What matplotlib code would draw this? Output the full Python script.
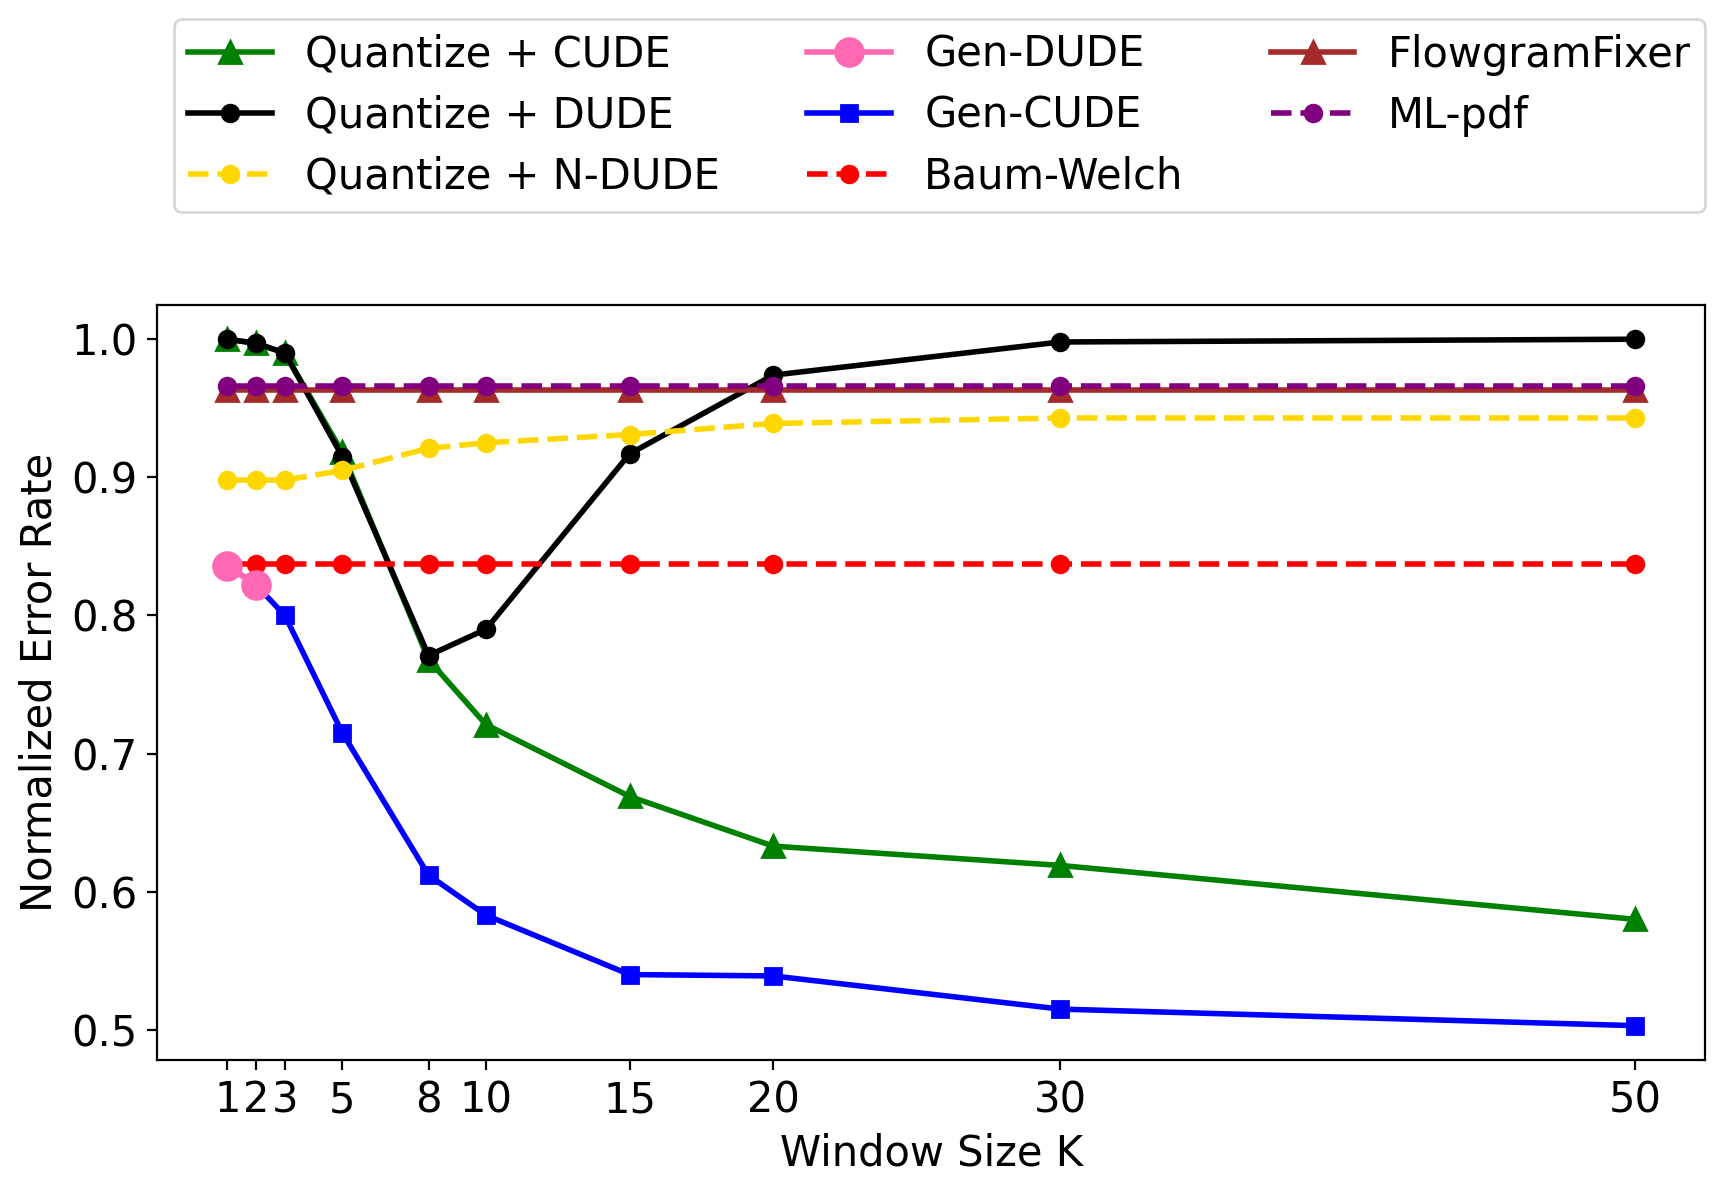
import matplotlib
matplotlib.use('Agg')
import matplotlib.pyplot as plt

plt.rcParams['font.size'] = 15

window = [1, 2, 3, 5, 8, 10, 15, 20, 30, 50]

q_cude = [1.0, 0.997, 0.99, 0.918, 0.768, 0.721, 0.669, 0.633, 0.619, 0.580]
q_dude = [1.0, 0.997, 0.99, 0.915, 0.771, 0.790, 0.917, 0.974, 0.998, 1.0]
q_ndude = [0.898, 0.898, 0.898, 0.905, 0.921, 0.925, 0.931, 0.939, 0.943, 0.943]
gen_dude_x = [1, 2]
gen_dude = [0.836, 0.822]
gen_cude = [0.836, 0.822, 0.800, 0.715, 0.612, 0.583, 0.540, 0.539, 0.515, 0.503]
baum_welch = [0.837] * 10
flowgram = [0.963] * 10
ml_pdf = [0.966] * 10

fig, ax = plt.subplots(figsize=(8.63, 5.955), dpi=200)

ax.plot(window, q_cude, color='green', marker='^', markersize=8, lw=2, label='Quantize + CUDE')
ax.plot(window, q_dude, color='black', marker='o', lw=2, label='Quantize + DUDE')
ax.plot(window, q_ndude, color='gold', marker='o', lw=2, ls='--', label='Quantize + N-DUDE')
ax.plot(gen_dude_x, gen_dude, color='hotpink', marker='o', markersize=10, lw=2, label='Gen-DUDE', zorder=4)
ax.plot(window, gen_cude, color='blue', marker='s', lw=2, label='Gen-CUDE')
ax.plot(window, baum_welch, color='red', marker='o', lw=2, ls='--', label='Baum-Welch')
ax.plot(window, flowgram, color='brown', marker='^', markersize=8, lw=2, label='FlowgramFixer')
ax.plot(window, ml_pdf, color='purple', marker='o', lw=2, ls='--', label='ML-pdf')

ax.set_xticks(window)
ax.set_xlabel('Window Size K')
ax.set_ylabel('Normalized Error Rate')

ax.legend(ncol=3, loc='lower right', bbox_to_anchor=(1.0, 1.123), borderaxespad=0,
          labelspacing=0.45, borderpad=0.35, columnspacing=2.1)

fig.subplots_adjust(left=0.091, right=0.988, top=0.744, bottom=0.110)
fig.savefig('out.png')
